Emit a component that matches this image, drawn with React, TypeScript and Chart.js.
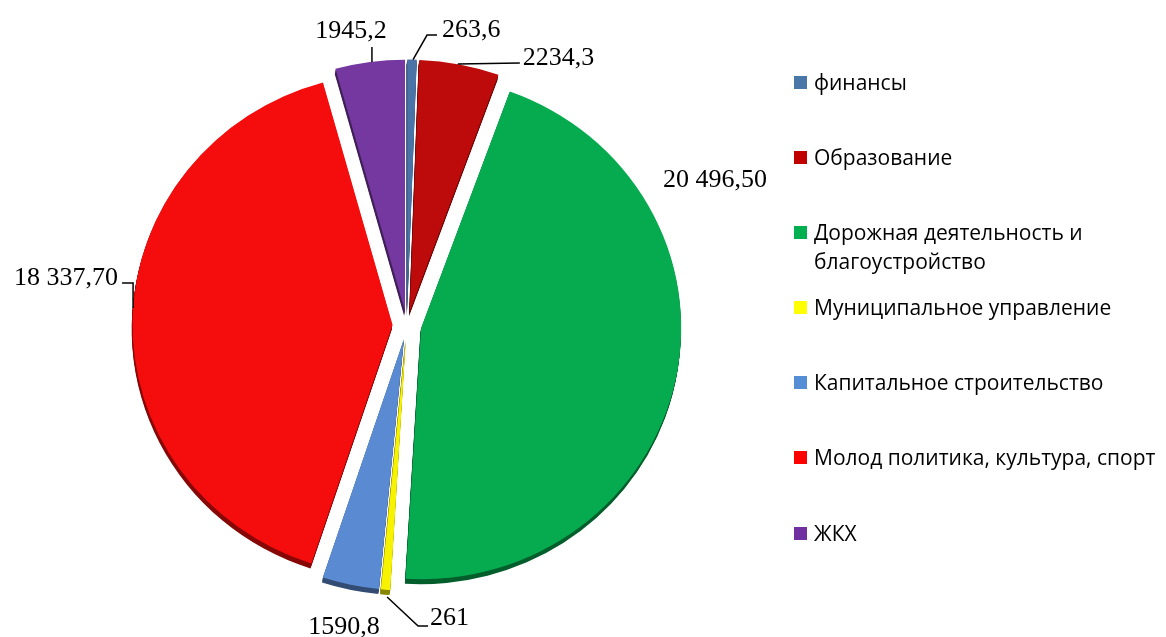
import React, { useEffect, useRef } from 'react';
import { Chart, registerables } from 'chart.js';

Chart.register(...registerables);

// ---- data ----
const categories = [
  'финансы',
  'Образование',
  'Дорожная деятельность и благоустройство',
  'Муниципальное управление',
  'Капитальное строительство',
  'Молод политика, культура, спорт',
  'ЖКХ',
];
const values = [263.6, 2234.3, 20496.5, 261, 1590.8, 18337.7, 1945.2];
const valueLabels = ['263,6', '2234,3', '20 496,50', '261', '1590,8', '18 337,70', '1945,2'];

// ---- style ----
const sliceColors = ['#4A74A8', '#BD0A0A', '#07AB4F', '#F7F200', '#5A8BD2', '#F50D0D', '#7438A0'];
const legendColors = ['#4A76A8', '#C00000', '#00B050', '#FFFF00', '#558ED5', '#FF0000', '#7030A0'];
const RADIUS = 260;
const EXPLODE = 14.5;
const TILT = 0.967;
const SIDE_DX = -0.8;
const SIDE_DY = 5;

type LabelStyle = { dx: number; dy: number; align: CanvasTextAlign; leader: [number, number][] };
// placement relative to the outer middle point of each slice
const labelStyles: LabelStyle[] = [
  { dx: 30, dy: -22.5, align: 'left', leader: [[1, 0], [15, -24.5], [25, -24.5]] },
  { dx: 63.4, dy: 0.5, align: 'left', leader: [[-1.6, -0.5], [60.4, -1.5]] },
  { dx: 39.3, dy: -191.6, align: 'center', leader: [] },
  { dx: 44.5, dy: 35.4, align: 'left', leader: [[1.5, 7.4], [32.5, 36.4], [42.5, 36.4]] },
  { dx: -6.6, dy: 49.2, align: 'center', leader: [] },
  { dx: -14.5, dy: -33.7, align: 'right', leader: [[0.5, -10.7], [0.5, -35.7], [-10.5, -35.7]] },
  { dx: -19, dy: -24, align: 'center', leader: [[2, 0], [2, -15]] },
];

function darken(hex: string, f: number) {
  const n = parseInt(hex.slice(1), 16);
  const r = Math.round(((n >> 16) & 255) * f);
  const g = Math.round(((n >> 8) & 255) * f);
  const b = Math.round((n & 255) * f);
  return `rgb(${r},${g},${b})`;
}

const pie3dPlugin = {
  id: 'pie3d',
  beforeDatasetDraw(chart: any, args: any) {
    const meta = chart.getDatasetMeta(args.index);
    const ctx: CanvasRenderingContext2D = chart.ctx;
    const arcs = meta.data;
    // side faces
    arcs.forEach((arc: any, i: number) => {
      const { x, y, startAngle, endAngle, outerRadius } = arc;
      const mid = (startAngle + endAngle) / 2;
      const ox = Math.cos(mid) * EXPLODE;
      const oy = Math.sin(mid) * EXPLODE;
      ctx.save();
      ctx.fillStyle = darken(sliceColors[i], 0.55);
      for (let t = 1; t <= 5; t++) {
        ctx.save();
        ctx.translate((SIDE_DX * t) / 5, (SIDE_DY * t) / 5);
        ctx.translate(x, y);
        ctx.scale(1, TILT);
        ctx.translate(-x, -y);
        ctx.beginPath();
        ctx.moveTo(x + ox, y + oy);
        ctx.arc(x + ox, y + oy, outerRadius, startAngle, endAngle);
        ctx.closePath();
        ctx.fill();
        ctx.restore();
      }
      ctx.restore();
    });
    // top faces
    arcs.forEach((arc: any) => {
      const { x, y, startAngle, endAngle } = arc;
      const mid = (startAngle + endAngle) / 2;
      ctx.save();
      ctx.translate(x, y);
      ctx.scale(1, TILT);
      ctx.translate(-x, -y);
      ctx.translate(Math.cos(mid) * EXPLODE, Math.sin(mid) * EXPLODE);
      arc.draw(ctx);
      ctx.restore();
    });
    return false;
  },
};

const labelPlugin = {
  id: 'valueLabels',
  afterDatasetsDraw(chart: any) {
    const meta = chart.getDatasetMeta(0);
    const ctx: CanvasRenderingContext2D = chart.ctx;
    ctx.save();
    ctx.font = '26px "Liberation Serif", "Times New Roman", serif';
    ctx.fillStyle = '#000';
    ctx.strokeStyle = '#000';
    ctx.lineWidth = 1.5;
    ctx.textBaseline = 'alphabetic';
    meta.data.forEach((arc: any, i: number) => {
      const { x, y, startAngle, endAngle, outerRadius } = arc;
      const mid = (startAngle + endAngle) / 2;
      const ax = x + Math.cos(mid) * (outerRadius + EXPLODE);
      const ay = y + Math.sin(mid) * (outerRadius + EXPLODE) * TILT;
      const st = labelStyles[i];
      if (st.leader.length > 1) {
        ctx.beginPath();
        st.leader.forEach(([lx, ly], k) => {
          if (k === 0) ctx.moveTo(ax + lx, ay + ly);
          else ctx.lineTo(ax + lx, ay + ly);
        });
        ctx.stroke();
      }
      ctx.textAlign = st.align;
      ctx.fillText(valueLabels[i], ax + st.dx, ay + st.dy);
    });
    ctx.restore();
  },
};

export default function App() {
  const canvasRef = useRef<HTMLCanvasElement | null>(null);

  useEffect(() => {
    if (!canvasRef.current) return;
    const chart = new Chart(canvasRef.current, {
      type: 'pie',
      data: {
        labels: categories,
        datasets: [
          {
            data: values,
            backgroundColor: sliceColors,
            borderWidth: 0,
            offset: 0,
            radius: RADIUS,
          } as any,
        ],
      },
      options: {
        responsive: false,
        animation: false,
        events: [],
        layout: { padding: { left: 0, right: 352, top: 13, bottom: 0 } },
        plugins: {
          legend: { display: false },
          tooltip: { enabled: false },
        },
      },
      plugins: [pie3dPlugin as any, labelPlugin as any],
    });
    return () => chart.destroy();
  }, []);

  return (
    <div
      style={{
        position: 'fixed',
        left: 0,
        top: 0,
        width: 1166,
        height: 637,
        overflow: 'hidden',
        background: '#fff',
      }}
    >
      <canvas ref={canvasRef} width={1166} height={637} style={{ position: 'absolute', left: 0, top: 0 }} />
      <div style={{ position: 'absolute', left: 794, top: 67.5 }}>
        {categories.map((c, i) => (
          <div key={i} style={{ position: 'relative', height: 75.2 }}>
            <span
              style={{
                position: 'absolute',
                left: 0,
                top: 8,
                width: 13,
                height: 13,
                background: legendColors[i],
              }}
            />
            <span
              style={{
                position: 'absolute',
                left: 20,
                top: 0,
                width: 352,
                lineHeight: '29px',
                fontSize: 21,
                fontFamily: '"Open Sans", Lato, sans-serif',
                color: '#000',
              }}
            >
              {c}
            </span>
          </div>
        ))}
      </div>
    </div>
  );
}
